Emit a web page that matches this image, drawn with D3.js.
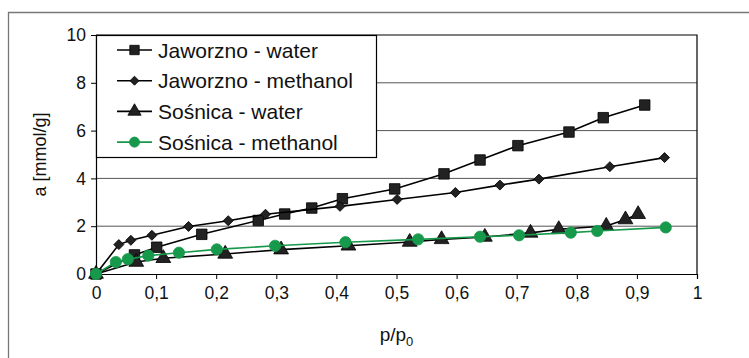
<!DOCTYPE html>
<html>
<head>
<meta charset="utf-8">
<script src="https://cdn.jsdelivr.net/npm/d3@7"></script>
<style>
  body { margin: 0; background: #fff; }
  svg { font-family: "Liberation Sans", Arial, sans-serif; }
</style>
</head>
<body>
<div id="chart"></div>
<script>
// data
var jawWaterX = [0, 0.064, 0.101, 0.176, 0.27, 0.314, 0.359, 0.41, 0.497, 0.579, 0.639, 0.702, 0.787, 0.844, 0.913];
var jawWaterY = [0, 0.80, 1.12, 1.66, 2.24, 2.51, 2.76, 3.15, 3.56, 4.19, 4.77, 5.37, 5.94, 6.54, 7.07];

var jawMethX = [0, 0.038, 0.058, 0.093, 0.154, 0.22, 0.282, 0.406, 0.501, 0.598, 0.672, 0.737, 0.855, 0.946];
var jawMethY = [0, 1.23, 1.41, 1.62, 1.99, 2.23, 2.50, 2.83, 3.12, 3.41, 3.72, 3.97, 4.49, 4.87];

var sosWaterX = [0, 0.067, 0.112, 0.215, 0.308, 0.42, 0.522, 0.575, 0.647, 0.723, 0.770, 0.849, 0.881, 0.902];
var sosWaterY = [0, 0.50, 0.66, 0.84, 1.02, 1.18, 1.34, 1.45, 1.55, 1.72, 1.87, 2.01, 2.28, 2.50];

var sosMethX = [0, 0.033, 0.053, 0.087, 0.138, 0.201, 0.298, 0.415, 0.536, 0.639, 0.704, 0.790, 0.834, 0.948];
var sosMethY = [0, 0.50, 0.62, 0.77, 0.89, 1.03, 1.18, 1.33, 1.45, 1.56, 1.62, 1.73, 1.80, 1.95];

var seriesNames = ["Jaworzno - water", "Jaworzno - methanol", "Sośnica - water", "Sośnica - methanol"];
var xTicks = [0, 0.1, 0.2, 0.3, 0.4, 0.5, 0.6, 0.7, 0.8, 0.9, 1];
var yTicks = [0, 2, 4, 6, 8, 10];

var width = 749, height = 358;
var margin = { top: 35, right: 52, bottom: 84, left: 96 };
var green = "#17994b";

var series = [
  { name: seriesNames[0], xs: jawWaterX, ys: jawWaterY, symbol: d3.symbolSquare, size: 110, rot: 0, color: "#000" },
  { name: seriesNames[1], xs: jawMethX, ys: jawMethY, symbol: d3.symbolSquare, size: 50, rot: 45, color: "#000" },
  { name: seriesNames[2], xs: sosWaterX, ys: sosWaterY, symbol: d3.symbolTriangle, size: 95, rot: 0, color: "#000" },
  { name: seriesNames[3], xs: sosMethX, ys: sosMethY, symbol: d3.symbolCircle, size: 100, rot: 0, color: green }
];

var svg = d3.select("#chart").append("svg")
  .attr("width", width)
  .attr("height", height);

// outer frame (cropped at right and bottom)
svg.append("path")
  .attr("d", "M8.5,358 V12.5 H749")
  .attr("fill", "none")
  .attr("stroke", "#777")
  .attr("stroke-width", 1.3);

var x = d3.scaleLinear().domain([0, 1]).range([margin.left, width - margin.right]);
var y = d3.scaleLinear().domain([0, 10]).range([height - margin.bottom, margin.top]);

// gridlines
svg.append("g")
  .selectAll("line")
  .data(yTicks.filter(function(d) { return d > 0 && d < 10; }))
  .join("line")
  .attr("x1", x(0)).attr("x2", x(1))
  .attr("y1", function(d) { return y(d); })
  .attr("y2", function(d) { return y(d); })
  .attr("stroke", "#555")
  .attr("stroke-width", 1);

// top and right border
svg.append("path")
  .attr("d", "M" + x(0) + "," + y(10) + " H" + x(1) + " V" + y(0))
  .attr("fill", "none")
  .attr("stroke", "#000")
  .attr("stroke-width", 1.2);

// axes
var xAxis = svg.append("g")
  .attr("transform", "translate(0," + y(0) + ")")
  .call(d3.axisBottom(x).tickValues(xTicks).tickSize(5).tickPadding(8)
    .tickFormat(function(d) { return d === 0 || d === 1 ? d : d3.format(".1f")(d).replace(".", ","); }));

var yAxis = svg.append("g")
  .attr("transform", "translate(" + x(0) + ",0)")
  .call(d3.axisLeft(y).tickValues(yTicks).tickSize(5).tickPadding(5));

[xAxis, yAxis].forEach(function(a) {
  a.select(".domain").attr("stroke", "#000").attr("stroke-width", 1.2);
  a.selectAll(".tick line").attr("stroke", "#000");
  a.selectAll("text")
    .attr("fill", "#111")
    .style("font-size", "17.5px")
    .style("font-family", "Liberation Sans, Arial, sans-serif");
});

// axis titles
svg.append("text")
  .attr("transform", "translate(46," + (margin.top + (y(0) - margin.top) / 2) + ") rotate(-90)")
  .attr("text-anchor", "middle")
  .attr("fill", "#111")
  .style("font-size", "18px")
  .text("a [mmol/g]");

var xt = svg.append("text")
  .attr("x", (x(0) + x(1)) / 2)
  .attr("y", 341)
  .attr("text-anchor", "middle")
  .attr("fill", "#111")
  .style("font-size", "19px");
xt.append("tspan").text("p/p");
xt.append("tspan").attr("dy", 5).style("font-size", "13px").text("0");

// lines and markers
var line = d3.line()
  .x(function(d) { return x(d[0]); })
  .y(function(d) { return y(d[1]); });

series.forEach(function(s) {
  var pts = d3.zip(s.xs, s.ys);
  var g = svg.append("g");
  g.append("path")
    .datum(pts)
    .attr("d", line)
    .attr("fill", "none")
    .attr("stroke", s.color)
    .attr("stroke-width", 1.6);
  g.selectAll("path.pt")
    .data(pts)
    .join("path")
    .attr("class", "pt")
    .attr("transform", function(d) { return "translate(" + x(d[0]) + "," + y(d[1]) + ") rotate(" + s.rot + ")"; })
    .attr("d", d3.symbol().type(s.symbol).size(s.size))
    .attr("fill", s.color === "#000" ? "#222" : s.color)
    .attr("stroke", s.color)
    .attr("stroke-width", 0.8);
});

// legend
var legend = svg.append("g");
legend.append("rect")
  .attr("x", x(0) + 0.5).attr("y", y(10) + 0.5)
  .attr("width", 280).attr("height", 122)
  .attr("fill", "#fff")
  .attr("stroke", "#000")
  .attr("stroke-width", 1.2);

series.forEach(function(s, i) {
  var cy = 50 + i * 30.7;
  var row = legend.append("g");
  row.append("line")
    .attr("x1", 117).attr("x2", 152)
    .attr("y1", cy).attr("y2", cy)
    .attr("stroke", s.color)
    .attr("stroke-width", 1.6);
  row.append("path")
    .attr("transform", "translate(134.5," + cy + ") rotate(" + s.rot + ")")
    .attr("d", d3.symbol().type(s.symbol).size(s.size * 0.8))
    .attr("fill", s.color === "#000" ? "#222" : s.color)
    .attr("stroke", s.color)
    .attr("stroke-width", 0.8);
  row.append("text")
    .attr("x", 158).attr("y", cy)
    .attr("dy", "0.36em")
    .attr("fill", "#111")
    .style("font-size", "21px")
    .text(s.name);
});
</script>
</body>
</html>
